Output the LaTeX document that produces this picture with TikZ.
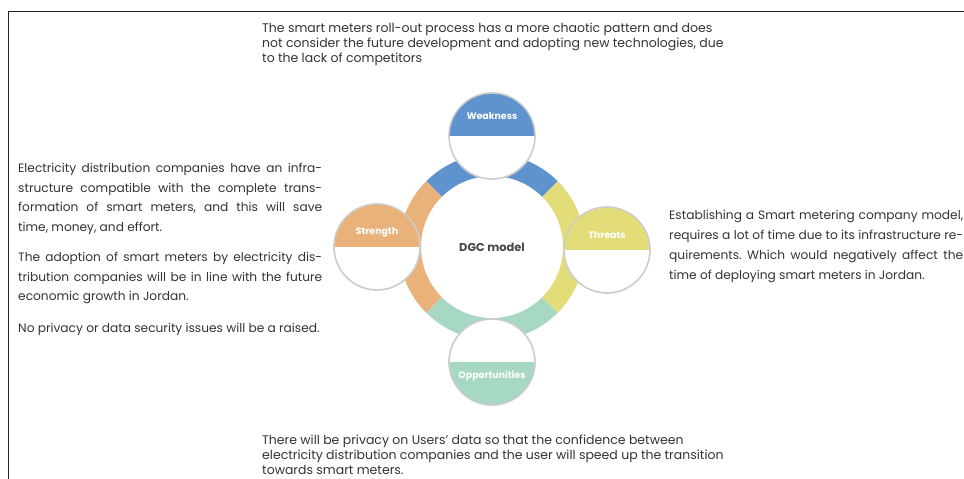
\documentclass[tikz,border=0pt]{standalone}
\usepackage{fontspec}
\setmainfont{Poppins}
\frenchspacing
\definecolor{swotblue}{HTML}{5E93CD}
\definecolor{swotorange}{HTML}{E9B27A}
\definecolor{swotyellow}{HTML}{E2DD79}
\definecolor{swotteal}{HTML}{A7D8C3}
\definecolor{textgray}{HTML}{333333}
\definecolor{framegray}{HTML}{222222}

\tikzset{
  swotcircle/.style={circle, draw=gray!35, line width=1.2pt, fill=white,
    minimum size=86pt, inner sep=0pt, outer sep=0pt},
  swotrim/.style={draw=gray!40, line width=1.4pt},
  swotlabel/.style={text=white, font=\fontsize{9.4}{10}\selectfont\bfseries},
  bodytext/.style={anchor=north west, inner sep=0pt, text=textgray,
    font=\fontsize{12.5}{15}\selectfont},
}

\begin{document}
\begin{tikzpicture}[x=1pt,y=1pt]
  \useasboundingbox (0,0) rectangle (964,479);
  \draw[line width=1pt, framegray] (8,0) -- (8,467) -- (964,467);

  % ring round the model
  \coordinate (ctr) at (492,232);
  \begin{scope}[shift={(ctr)}]
    \fill[swotblue] (45:93) arc (45:135:93) -- (135:71) arc (135:45:71) -- cycle;
    \fill[swotorange] (135:93) arc (135:225:93) -- (225:71) arc (225:135:71) -- cycle;
    \fill[swotteal] (225:93) arc (225:315:93) -- (315:71) arc (315:225:71) -- cycle;
    \fill[swotyellow] (315:93) arc (315:405:93) -- (45:71) arc (405:315:71) -- cycle;
  \end{scope}
  \node[font=\fontsize{11.4}{13}\selectfont\bfseries, text=textgray!90] (model) at (ctr) {DGC model};

  % the four half-filled circles
  \node[swotcircle] (weak) at (492,343) {};
  \fill[swotblue] (weak.west) arc (180:0:43) -- cycle;
  \draw[swotrim] (weak) circle (43);
  \node[swotlabel] (weaklabel) at ([yshift=20]weak.center) {Weakness};

  \node[swotcircle] (str) at (377,232) {};
  \fill[swotorange] (str.west) arc (180:0:43) -- cycle;
  \draw[swotrim] (str) circle (43);
  \node[swotlabel] (strlabel) at ([yshift=15]str.center) {Strength};

  \node[swotcircle] (thr) at (607,229) {};
  \fill[swotyellow] (thr.west) arc (180:0:43) -- cycle;
  \draw[swotrim] (thr) circle (43);
  \node[swotlabel] (thrlabel) at ([yshift=15]thr.center) {Threats};

  \node[swotcircle] (opp) at (492,117) {};
  \fill[swotteal] (opp.west) arc (180:360:43) -- cycle;
  \draw[swotrim] (opp) circle (43);
  \node[swotlabel] (opplabel) at ([yshift=-14]opp.center) {Opportunities};

  % texts
  \node[bodytext, align=left] (weaktext) at (262,456)
    {The smart meters roll-out process has a more chaotic pattern and does\\
     not consider the future development and adopting new technologies, due\\
     to the lack of competitors};

  \node[bodytext, text width=304pt, align=justify,
    font=\fontsize{12.2}{19.5}\selectfont] (strtext) at (18,316)
    {Electricity distribution companies have an infra-\linebreak
     structure compatible with the complete trans-\linebreak
     formation of smart meters, and this will save\linebreak
     time, money, and effort.\\[11pt]
     The adoption of smart meters by electricity dis-\linebreak
     tribution companies will be in line with the future\linebreak
     economic growth in Jordan.\\[12pt]
     No privacy or data security issues will be a raised.};

  \node[bodytext, text width=294pt, align=justify,
    font=\fontsize{12.2}{20}\selectfont] (thrtext) at (669,269)
    {Establishing a Smart metering company model,\linebreak
     requires a lot of time due to its infrastructure re-\linebreak
     quirements. Which would negatively affect the\linebreak
     time of deploying smart meters in Jordan.};

  \node[bodytext, align=left] (opptext) at (262,44)
    {There will be privacy on Users’ data so that the confidence between\\
     electricity distribution companies and the user will speed up the transition\\
     towards smart meters.};
\end{tikzpicture}
\end{document}
